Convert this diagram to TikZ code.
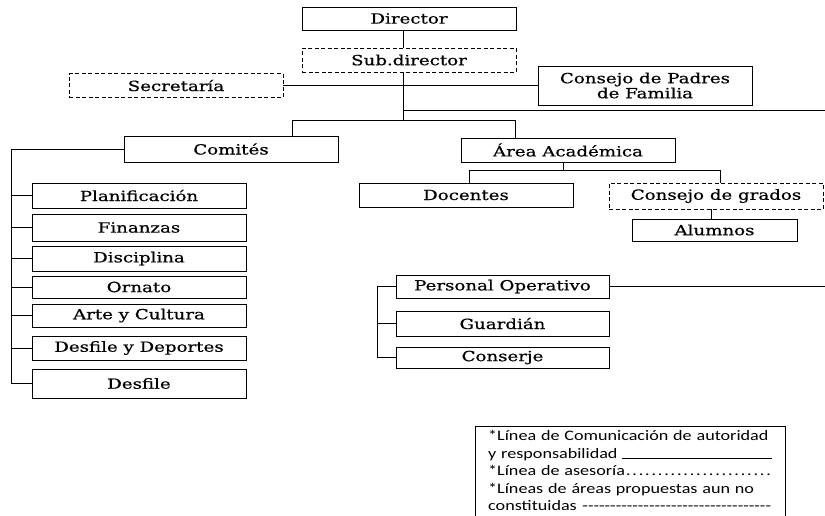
\documentclass[tikz,border=0pt]{standalone}
\usepackage{fontspec}
\setmainfont[FakeStretch=1.3,FakeBold=0.6]{DejaVu Serif}
\newfontfamily\legfont[FakeStretch=1.25]{Carlito}
\begin{document}
\begin{tikzpicture}[x=1pt,y=-1pt,
  box/.style={draw,line width=0.9pt,inner sep=0pt,font=\fontsize{14}{16}\selectfont,align=center},
  dbox/.style={box,dashed,dash pattern=on 4pt off 2.5pt},
  conn/.style={line width=0.9pt},
  legtext/.style={inner sep=0pt,anchor=north west,text width=284pt,align=left,font=\legfont\fontsize{14.5}{17.6}\selectfont}]
\useasboundingbox (0,0) rectangle (825,515);
% top
\node[box,minimum width=214pt,minimum height=23pt] (dir) at (409,18.5) {Director};
\node[dbox,minimum width=214pt,minimum height=24pt] (sub) at (409,60) {Sub.director};
\node[dbox,minimum width=214pt,minimum height=24pt] (sec) at (176,85.5) {Secretaría};
\node[box,minimum width=214pt,minimum height=39pt,font=\fontsize{14}{15}\selectfont] (cpf) at (645,85.5) {Consejo de Padres\\de Familia};
\node[box,minimum width=214pt,minimum height=26pt] (com) at (231,149) {Comités};
\node[box,minimum width=214pt,minimum height=24pt] (area) at (568,150) {Área Académica};
\node[box,minimum width=214pt,minimum height=24pt] (doc) at (466,195) {Docentes};
\node[dbox,minimum width=214pt,minimum height=26pt] (cg) at (716,196) {Consejo de grados};
\node[box,minimum width=165pt,minimum height=22pt] (alu) at (714.5,230) {Alumnos};
% comites children
\node[box,minimum width=214pt,minimum height=25pt] (plan) at (139,195.5) {Planificación};
\node[box,minimum width=214pt,minimum height=27pt] (fin) at (139,227.5) {Finanzas};
\node[box,minimum width=214pt,minimum height=25pt] (dis) at (139,258.5) {Disciplina};
\node[box,minimum width=214pt,minimum height=22pt] (orn) at (139,287) {Ornato};
\node[box,minimum width=214pt,minimum height=23pt] (arte) at (139,315.5) {Arte y Cultura};
\node[box,minimum width=214pt,minimum height=24pt] (dyd) at (139,348) {Desfile y Deportes};
\node[box,minimum width=214pt,minimum height=29pt] (des) at (139,383.5) {Desfile};
% personal
\node[box,minimum width=213pt,minimum height=23pt] (pop) at (502.5,286.5) {Personal Operativo};
\node[box,minimum width=213pt,minimum height=25pt] (gua) at (502.5,323.5) {Guardián};
\node[box,minimum width=213pt,minimum height=21pt] (cons) at (502.5,357.5) {Conserje};
% coordinates
\coordinate (tx) at (403,0);
\coordinate (j2) at (403,110);
\coordinate (r1) at (825,110);
\coordinate (j1) at (403,120);
\coordinate (cL) at (292,120);
\coordinate (cR) at (515,120);
\coordinate (bus) at (11,0);
\coordinate (a1) at (563,170);
\coordinate (dL) at (469,170);
\coordinate (gR) at (720,170);
\coordinate (ca) at (711,0);
\coordinate (pb) at (377,0);
\coordinate (r2) at (825,286.5);
% connectors
\draw[conn] (dir.south -| tx) -- (sub.north -| tx);
\draw[conn] (sub.south -| tx) -- (j1);
\draw[conn] (sec.east) -- (cpf.west);
\draw[conn] (j2) -- (r1);
\draw[conn] (com.north -| cL) -- (cL) -- (cR) -- (area.north -| cR);
\draw[conn] (com.west) -- (com.west -| bus) -- (des.west -| bus) -- (des.west);
\foreach \n in {plan,fin,dis,orn,arte,dyd}
  \draw[conn] (\n.west -| bus) -- (\n.west);
\draw[conn] (area.south -| a1) -- (a1);
\draw[conn] (doc.north -| dL) -- (dL) -- (gR) -- (cg.north -| gR);
\draw[conn] (cg.south -| ca) -- (alu.north -| ca);
\draw[conn] (pop.west) -- (pop.west -| pb) -- (cons.west -| pb) -- (cons.west);
\draw[conn] (gua.west -| pb) -- (gua.west);
\draw[conn] (pop.east) -- (r2);
% legend
\node[draw,line width=0.8pt,anchor=north west,minimum width=310pt,minimum height=90pt,inner sep=0pt] (leg) at (475,426) {};
\node[legtext] (legt) at ([xshift=13pt,yshift=-4pt]leg.north west)
 {*Línea de Comunicación de autoridad%
  \\\relax y responsabilidad \hrulefill%
  \\\relax*Línea de asesoría\dotfill%
  \\\relax*Líneas de áreas propuestas aun no%
  \\\relax constituidas \leaders\hbox{-}\hfill\mbox{}};
\end{tikzpicture}
\end{document}
